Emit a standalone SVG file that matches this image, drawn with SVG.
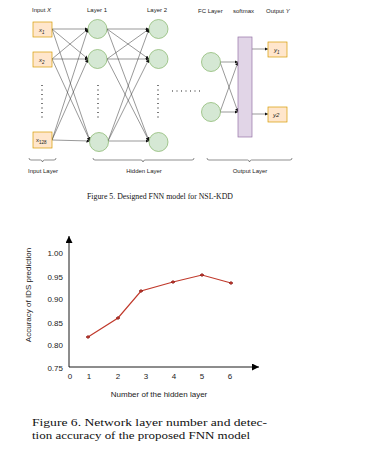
<svg xmlns="http://www.w3.org/2000/svg" width="385" height="450" viewBox="0 0 385 450">
<defs>
<marker id="ah" viewBox="0 0 6 6" refX="6" refY="3" markerWidth="3.5" markerHeight="3.5" orient="auto" markerUnits="userSpaceOnUse"><path d="M0,0 L6,3 L0,6 z" fill="#111"/></marker>
<marker id="ax" viewBox="0 0 8 8" refX="8" refY="4" markerWidth="7" markerHeight="7" orient="auto" markerUnits="userSpaceOnUse"><path d="M0,0 L8,4 L0,8 z" fill="#000"/></marker>
</defs>
<style>
.lbl{font-family:"Liberation Sans",Arial,sans-serif;font-size:6px;fill:#222}
.in{fill:#ffe6cc;stroke:#d79b00;stroke-width:0.7}
.neu{fill:#d5e8d4;stroke:#82b366;stroke-width:0.7}
.sm{fill:#e1d5e7;stroke:#9673a6;stroke-width:0.7}
.c{stroke:#333;stroke-width:0.5;fill:none;marker-end:url(#ah)}
.dots{stroke:#222;stroke-width:1.2;stroke-dasharray:1 3.5;fill:none}
.br{stroke:#444;stroke-width:0.6;fill:none}
.cap{font-family:"Liberation Serif","Times New Roman",serif;fill:#111}
.tk{font-family:"Liberation Sans",Arial,sans-serif;font-size:8px;fill:#222}
.pt{fill:#c0392b;stroke:#7a1010;stroke-width:0.6}
</style>
<rect width="385" height="450" fill="#fff"/>

<!-- headers -->
<text class="lbl" x="32" y="12">Input <tspan font-style="italic">X</tspan></text>
<text class="lbl" x="87" y="12">Layer 1</text>
<text class="lbl" x="147" y="12">Layer 2</text>
<text class="lbl" x="198" y="13">FC Layer</text>
<text class="lbl" x="233" y="13">softmax</text>
<text class="lbl" x="266" y="13">Output <tspan font-style="italic">Y</tspan></text>

<!-- connectors -->
<g id="connectors">
<path class="c" d="M52,29 L88,29"/><path class="c" d="M52,29 L88,59"/><path class="c" d="M52,29 L90,141"/>
<path class="c" d="M52,59 L88,29"/><path class="c" d="M52,59 L88,59"/><path class="c" d="M52,59 L90,141"/>
<path class="c" d="M52,140 L88,29"/><path class="c" d="M52,140 L88,59"/><path class="c" d="M52,140 L90,141"/>
<path class="c" d="M107,29 L149,29"/><path class="c" d="M107,29 L149,59"/><path class="c" d="M107,29 L149,141"/>
<path class="c" d="M107,59 L149,29"/><path class="c" d="M107,59 L149,59"/><path class="c" d="M107,59 L149,141"/>
<path class="c" d="M108,141 L149,29"/><path class="c" d="M108,141 L149,59"/><path class="c" d="M108,141 L149,141"/>
<path class="c" d="M220,62 L238,62"/><path class="c" d="M220,62 L238,112"/>
<path class="c" d="M220,112 L238,62"/><path class="c" d="M220,112 L238,112"/>
<path class="c" d="M252,49 L268,49"/><path class="c" d="M252,114 L268,114"/>
</g>

<!-- input nodes -->
<g id="x1"><rect class="in" x="33" y="22" width="19" height="15"/><text class="lbl" x="39" y="32" font-style="italic">x<tspan font-size="4.5" dy="1.5">1</tspan></text></g>
<g id="x2"><rect class="in" x="33" y="52" width="19" height="15"/><text class="lbl" x="39" y="62" font-style="italic">x<tspan font-size="4.5" dy="1.5">2</tspan></text></g>
<g id="x128"><rect class="in" x="33" y="132" width="19" height="16"/><text class="lbl" x="36" y="142">x<tspan font-size="4.5" dy="1.5">128</tspan></text></g>

<!-- layer 1 -->
<g id="l1n1"><circle class="neu" cx="97.5" cy="29" r="9.5"/></g>
<g id="l1n2"><circle class="neu" cx="97.5" cy="59" r="9.5"/></g>
<g id="l1n3"><circle class="neu" cx="99" cy="142" r="9.5"/></g>
<!-- layer 2 -->
<g id="l2n1"><circle class="neu" cx="158.5" cy="29" r="9.5"/></g>
<g id="l2n2"><circle class="neu" cx="158.5" cy="59" r="9.5"/></g>
<g id="l2n3"><circle class="neu" cx="158.5" cy="142" r="9.5"/></g>
<!-- FC -->
<g id="fc1"><circle class="neu" cx="211" cy="62" r="9.5"/></g>
<g id="fc2"><circle class="neu" cx="211" cy="112" r="9.5"/></g>
<!-- softmax -->
<g id="softmax"><rect class="sm" x="238" y="37" width="14" height="100"/></g>
<!-- outputs -->
<g id="y1"><rect class="in" x="268" y="42" width="19" height="15"/><text class="lbl" x="274" y="52" font-style="italic">y<tspan font-size="4.5" dy="1.5">1</tspan></text></g>
<g id="y2"><rect class="in" x="268" y="107" width="19" height="15"/><text class="lbl" x="273" y="117" font-style="italic">y2</text></g>

<!-- dots -->
<path class="dots" d="M42,85 V118"/>
<path class="dots" d="M98,85 V118"/>
<path class="dots" d="M158,85 V118"/>
<path class="dots" d="M172,91 H202"/>

<!-- braces -->
<path class="br" d="M29,158 q0,2 2,2 h9.5 q1.5,0 2,2 q0.5,-2 2,-2 h9.5 q2,0 2,-2"/>
<text class="lbl" x="43" y="173" text-anchor="middle">Input Layer</text>
<path class="br" d="M93,158 q0,2 2,2 h46 q1.5,0 2,2 q0.5,-2 2,-2 h47 q2,0 2,-2"/>
<text class="lbl" x="144" y="173" text-anchor="middle">Hidden Layer</text>
<path class="br" d="M207,158 q0,2 2,2 h38.5 q1.5,0 2,2 q0.5,-2 2,-2 h38.5 q2,0 2,-2"/>
<text class="lbl" x="250" y="173" text-anchor="middle">Output Layer</text>

<text class="cap" x="87" y="199" font-size="7.5" textLength="146" lengthAdjust="spacingAndGlyphs">Figure 5. Designed FNN model for NSL-KDD</text>

<!-- chart -->
<g id="chart">
<line x1="69" y1="367" x2="69" y2="236" stroke="#000" stroke-width="0.9" marker-end="url(#ax)"/>
<line x1="69" y1="367" x2="259" y2="367" stroke="#000" stroke-width="0.9" marker-end="url(#ax)"/>
<text class="tk" x="63" y="256" text-anchor="end">1.00</text>
<text class="tk" x="63" y="280" text-anchor="end">0.95</text>
<text class="tk" x="63" y="302" text-anchor="end">0.90</text>
<text class="tk" x="63" y="326" text-anchor="end">0.85</text>
<text class="tk" x="63" y="348" text-anchor="end">0.80</text>
<text class="tk" x="63" y="371" text-anchor="end">0.75</text>
<text class="tk" x="70" y="379" text-anchor="middle">0</text>
<text class="tk" x="89" y="379" text-anchor="middle">1</text>
<text class="tk" x="118" y="379" text-anchor="middle">2</text>
<text class="tk" x="146" y="379" text-anchor="middle">3</text>
<text class="tk" x="174" y="379" text-anchor="middle">4</text>
<text class="tk" x="202" y="379" text-anchor="middle">5</text>
<text class="tk" x="230" y="379" text-anchor="middle">6</text>
<text class="tk" x="0" y="0" font-size="8.5" text-anchor="middle" transform="translate(31,295) rotate(-90)">Accuracy of IDS prediction</text>
<text class="tk" x="159" y="397" font-size="8.5" text-anchor="middle">Number of the hidden layer</text>
<polyline points="88,337 118,318 141,291 173,282 202,275 231,283" fill="none" stroke="#c0392b" stroke-width="1.2"/>
<g>
<path class="pt" d="M88,335.5 l2,1.5 l-2,1.5 l-2,-1.5 z"/>
<path class="pt" d="M118,316.5 l2,1.5 l-2,1.5 l-2,-1.5 z"/>
<path class="pt" d="M141,289.5 l2,1.5 l-2,1.5 l-2,-1.5 z"/>
<path class="pt" d="M173,280.5 l2,1.5 l-2,1.5 l-2,-1.5 z"/>
<path class="pt" d="M202,273.5 l2,1.5 l-2,1.5 l-2,-1.5 z"/>
<path class="pt" d="M231,281.5 l2,1.5 l-2,1.5 l-2,-1.5 z"/>
</g>
</g>

<text class="cap" x="32" y="426" font-size="11" textLength="235" lengthAdjust="spacingAndGlyphs">Figure 6. Network layer number and detec-</text>
<text class="cap" x="32" y="439" font-size="11" textLength="218" lengthAdjust="spacingAndGlyphs">tion accuracy of the proposed FNN model</text>
</svg>
